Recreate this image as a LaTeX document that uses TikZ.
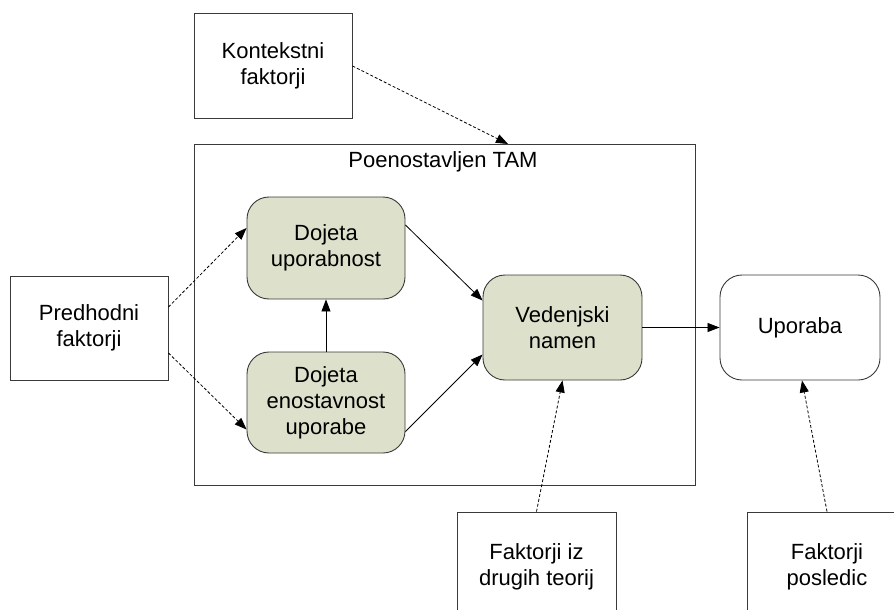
\documentclass[tikz,border=0pt]{standalone}
\usepackage{fontspec}
\setmainfont{Liberation Sans}
\usetikzlibrary{arrows.meta}
\definecolor{olivefill}{HTML}{DDE0CB}
\definecolor{edgegray}{HTML}{3A3A3A}
\tikzset{
  txt/.style={font=\fontsize{22}{26}\selectfont, align=center, text=black},
  factorbox/.style={txt, draw=edgegray, line width=0.9pt, rectangle, inner sep=0pt},
  tambox/.style={txt, draw=edgegray, line width=0.9pt, rounded corners=22pt, inner sep=0pt, fill=olivefill},
  usebox/.style={txt, draw=edgegray, line width=0.9pt, rounded corners=22pt, inner sep=0pt, fill=white},
  solidarrow/.style={-{Triangle[length=12pt,width=9pt]}, line width=0.8pt, draw=black},
  dasharrow/.style={solidarrow, dash pattern=on 3pt off 2pt},
}
\begin{document}
\begin{tikzpicture}[x=1pt, y=-1pt]
  \useasboundingbox (0,0) rectangle (894,610);
  \clip (0,0) rectangle (894,610);
  \fill[white] (0,0) rectangle (894,610);

  % outer frame of the simplified model
  \node[factorbox, minimum width=501pt, minimum height=341pt] (tam) at (444.5,314.5) {};
  \node[txt] (tamlabel) at (443,162) {Poenostavljen TAM};

  % external factors
  \node[factorbox, minimum width=158pt, minimum height=105pt] (kon) at (273,65.5) {Kontekstni\\faktorji};
  \node[factorbox, minimum width=158pt, minimum height=104pt] (pred) at (89,328) {Predhodni\\faktorji};
  \node[factorbox, minimum width=159pt, minimum height=110pt] (fit) at (536.5,567) {Faktorji iz\\drugih teorij};
  \node[factorbox, minimum width=160pt, minimum height=110pt] (fp) at (827,567) {Faktorji\\posledic};

  % model constructs
  \node[tambox, minimum width=158pt, minimum height=102pt] (du) at (326,248) {Dojeta\\uporabnost};
  \node[tambox, minimum width=158pt, minimum height=101pt] (de) at (326,402.5) {Dojeta\\enostavnost\\uporabe};
  \node[tambox, minimum width=159pt, minimum height=105pt] (vn) at (562.5,327.5) {Vedenjski\\namen};
  \node[usebox, minimum width=160pt, minimum height=105pt] (up) at (800,327.5) {Uporaba};

  \coordinate (kt) at (508,144);

  % relations inside the model
  \draw[solidarrow] (de.north) -- (du.south);
  \draw[solidarrow] ([yshift=23pt]du.east) -- ([yshift=27pt]vn.west);
  \draw[solidarrow] ([yshift=-29pt]de.east) -- ([yshift=-27pt]vn.west);
  \draw[solidarrow] (vn.east) -- (up.west);

  % influence of external factors
  \draw[dasharrow] ([yshift=-0.5pt]kon.east) -- (kt);
  \draw[dasharrow] ([yshift=21pt]pred.east) -- ([yshift=20pt]du.west);
  \draw[dasharrow] ([yshift=-25pt]pred.east) -- ([yshift=-27pt]de.west);
  \draw[dasharrow] (fit.north) -- (vn.south);
  \draw[dasharrow] (fp.north) -- ([xshift=2pt]up.south);
\end{tikzpicture}
\end{document}
